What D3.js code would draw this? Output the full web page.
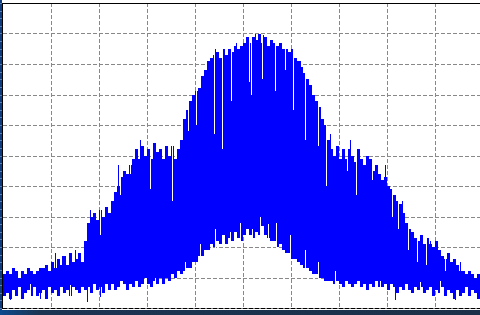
<!DOCTYPE html>
<html><head><meta charset="utf-8">
<script src="https://cdn.jsdelivr.net/npm/d3@7"></script>
<style>html,body{margin:0;padding:0;background:#fff;overflow:hidden}</style>
</head><body>
<script>
// Upper envelope of the signal per sample (dB)
const upper = [
 -89,-88,-89,-87,-88,-90,-88,-89,-87,-88,-89,-88,-87,
 -87,-86,-88,-85,-87,-84,-86,-83,-86,-82,-85,-84,-82,-85,
 -78,-72,
 -70,-69,-71,-68,-70,-67,-69,
 -65,-62,-60,-57,-55,-56,-53,
 -51,-48,-51,-47,-50,-48,-51,-46,-49,-48,-51,-47,-50,-47,-51,-48,-45,
 -38,-35,-32,-30,
 -29,-28,-24,-22,-19,-18,
 -17,-16,-18,-15,-17,-15,-16,-14,-15,-14,
 -13,-11,-13,-11,-12,-10,-13,-11,-14,-12,
 -13,-14,-13,-15,-15,-16,-15,
 -18,-19,-21,-23,-25,-27,
 -30,-32,-34,-38,-40,-45,
 -48,-50,-47,-51,-48,-51,-48,-50,-52,-48,-51,-53,-50,-51,-55,-53,-56,
 -58,-57,-60,-61,-63,-65,
 -66,-69,-72,-74,-75,-77,
 -78,-76,-79,-77,-79,-80,-78,-81,
 -83,-84,-82,-85,-84,-86,-88,
 -88,-89,-88,-89,-90,-89,-89
];
// Lower envelope of the signal per sample (dB)
const lower = [
 -96,-95,-97,-94,-96,-93,-97,-95,-94,-96,-93,-96,-95,-94,-97,-93,-95,-94,-96,-93,-95,-94,-96,-93,-94,-95,-93,
 -94,-93,-95,-92,-94,-93,-95,-92,-94,-92,-94,-93,-91,-92,-94,-92,
 -93,-91,-93,-92,-90,-92,-93,-91,-92,-90,
 -92,-90,-91,-89,-90,-88,-89,
 -88,-87,-87,-85,-85,-83,-83,-81,-81,-79,
 -80,-78,-79,-76,-79,-77,-78,-75,-77,-78,
 -76,-74,-76,-77,-75,-76,-73,-76,-77,-78,
 -78,-80,-79,-81,-82,-82,-84,
 -84,-85,-86,-87,-87,-88,
 -89,-89,-90,-90,-91,-91,
 -91,-92,-91,-92,-93,-91,-92,-93,-92,-91,-93,-92,-94,-92,-93,-91,-93,
 -93,-92,-94,-92,-93,-95,-93,-94,-92,-94,-95,-93,
 -94,-93,-95,-94,-93,-96,-94,-95,-93,-96,-94,-95,-97,-94,-96,-95,-93,-96,-94,-95,-97,-95
];
// Thin dips in the upper edge: [sample, dB reached]
const topDips = [
 [32.3,-76],[39,-63],[42.3,-56],[49,-61],[56.3,-65],[61.7,-42],[64.3,-40],[70.3,-43],
 [73,-48],[76,-32],[82,-26],[82.7,-30],[86.3,-25],[90.7,-29],[94,-22],[96.7,-35],
 [100.7,-45],[105,-47],[107.7,-60],[114.7,-55],[117.7,-63],[123,-58],[129.7,-70],
 [131.7,-74],[135,-81],[138,-85],[141,-86],[147.3,-88]
];
// Thin spikes above the upper edge: [sample, dB reached]
const topSpikes = [
 [17.3,-82],[19.7,-83],[24,-81],[29,-68],[38.3,-53],[45.7,-45],[54,-47],[67.3,-24],
 [70.7,-15],[77.7,-13],[84,-10],[86.7,-10.5],[99,-19],[109,-43],[115.7,-45],
 [127.3,-53],[133,-65],[142.3,-78],[152.3,-85]
];
// Thin rises in the lower edge: [sample, dB reached]
const lowDips = [
 [9,-92],[22.3,-92.5],[39,-91],[50.7,-90],[60.7,-85],[65.7,-79],[70.7,-74],[75.7,-75],
 [79,-72],[83,-74],[85.7,-70],[88.3,-72.5],[91,-72],[95.7,-76],[100.7,-81],[105,-85],
 [110.7,-88],[125.7,-91],[139,-91.5],[145.7,-91]
];
// Thin spikes below the lower edge: [sample, dB reached]
const lowSpikes = [
 [2.3,-97.5],[12.3,-97],[28,-98],[32.3,-96.5],[130.7,-97.5],[150.7,-97.5]
];
const xTicks = d3.range(0, 161, 16);   // 10 vertical divisions
const yTicks = d3.range(-100, 1, 10);  // 10 horizontal divisions
const yMinor = d3.range(-100, 1, 2.5);

const W = 480, H = 315;
const svg = d3.select("body").append("svg").attr("width", W).attr("height", H);

const x = d3.scaleLinear().domain([0, 160]).range([3, 483]);
const y = d3.scaleLinear().domain([-100, 0]).range([308, 3]);

// frame decorations
const defs = svg.append("defs");
const g1 = defs.append("linearGradient").attr("id","bot").attr("x1","0").attr("x2","1");
g1.append("stop").attr("offset","0").attr("stop-color","#0d4a8e");
g1.append("stop").attr("offset","0.08").attr("stop-color","#1b3452");
g1.append("stop").attr("offset","1").attr("stop-color","#1b3149");
svg.append("rect").attr("x",0).attr("y",0).attr("width",2).attr("height",H).attr("fill","#0f3c7e");
svg.append("rect").attr("x",0).attr("y",310).attr("width",W).attr("height",5).attr("fill","url(#bot)");

// grid
const grid = svg.append("g").attr("stroke","#888").attr("stroke-dasharray","4,2").attr("stroke-width",1);
grid.selectAll(".vx").data(xTicks.slice(1)).join("line")
  .attr("x1", d => Math.round(x(d)) + 0.5).attr("x2", d => Math.round(x(d)) + 0.5)
  .attr("y1", y(0)).attr("y2", y(-100));
grid.selectAll(".hy").data(yTicks.slice(1, -1)).join("line")
  .attr("x1", 3).attr("x2", W)
  .attr("y1", d => Math.round(y(d)) + 0.5).attr("y2", d => Math.round(y(d)) + 0.5);

// signal
svg.append("g").attr("fill","#0000ff").attr("shape-rendering","crispEdges")
  .selectAll("rect").data(upper).join("rect")
  .attr("x", (d,i) => x(i))
  .attr("width", (d,i) => x(i+1) - x(i))
  .attr("y", d => y(d))
  .attr("height", (d,i) => y(lower[i]) - y(d));

const px = s => Math.round(x(s)) + 0.5;
const env = (arr, s) => arr[Math.min(159, Math.floor(s))];
const thin = svg.append("g").attr("stroke-width",1).attr("shape-rendering","crispEdges");
thin.selectAll(".td").data(topDips).join("line")
  .attr("x1", d => px(d[0])).attr("x2", d => px(d[0]))
  .attr("y1", d => y(env(upper, d[0])) - 1).attr("y2", d => y(d[1]))
  .attr("stroke","#fff");
thin.selectAll(".ld").data(lowDips).join("line")
  .attr("x1", d => px(d[0])).attr("x2", d => px(d[0]))
  .attr("y1", d => y(env(lower, d[0])) + 1).attr("y2", d => y(d[1]))
  .attr("stroke","#fff");
thin.selectAll(".ts").data(topSpikes).join("line")
  .attr("x1", d => px(d[0])).attr("x2", d => px(d[0]))
  .attr("y1", d => y(env(upper, d[0]))).attr("y2", d => y(d[1]))
  .attr("stroke","#0000ff");
thin.selectAll(".ls").data(lowSpikes).join("line")
  .attr("x1", d => px(d[0])).attr("x2", d => px(d[0]))
  .attr("y1", d => y(env(lower, d[0]))).attr("y2", d => y(d[1]))
  .attr("stroke","#0000ff");

// axes lines
svg.append("line").attr("x1",2.5).attr("x2",2.5).attr("y1",3).attr("y2",309).attr("stroke","#000");
svg.append("line").attr("x1",2).attr("x2",W).attr("y1",3.5).attr("y2",3.5).attr("stroke","#000");
svg.append("line").attr("x1",3).attr("x2",W).attr("y1",308.5).attr("y2",308.5).attr("stroke","#888");
svg.append("line").attr("x1",3).attr("x2",W).attr("y1",308.5).attr("y2",308.5).attr("stroke","#000").attr("stroke-dasharray","4,2");
// left minor ticks
svg.append("g").selectAll("line").data(yMinor).join("line")
  .attr("x1",0).attr("x2",2)
  .attr("y1", d => Math.round(y(d)) + 0.5).attr("y2", d => Math.round(y(d)) + 0.5)
  .attr("stroke","#5a80b5");
</script>
</body></html>
